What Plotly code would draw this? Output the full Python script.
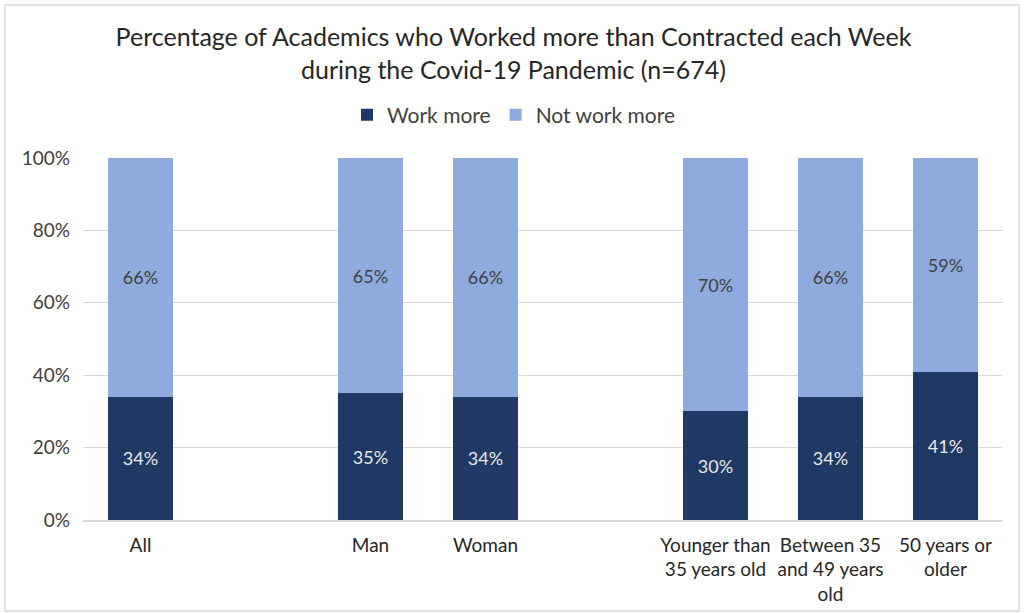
import plotly.graph_objects as go

# Category slots (blank slots separate the groups)
categories = ["All", " ", "Man", "Woman", "  ",
              "Younger than<br>35 years old", "Between 35<br>and 49 years<br>old", "50 years or<br>older"]
work_more = [34, None, 35, 34, None, 30, 34, 41]
not_work_more = [66, None, 65, 66, None, 70, 66, 59]
y_ticks = [0, 20, 40, 60, 80, 100]

DARK = "#1F3864"
LIGHT = "#8FAADC"
FONT = "Lato, Open Sans, sans-serif"

W, H = 1027, 613
ml, mr, mt, mb = 83, 24, 158, 93

def labels(vals):
    return [f"{v}%" if v is not None else "" for v in vals]

fig = go.Figure()
fig.add_trace(go.Bar(
    x=categories, y=work_more, name="Work more",
    marker=dict(color=DARK, line=dict(width=0)),
    text=labels(work_more), textposition="inside", insidetextanchor="middle",
    textfont=dict(color="#E8E8E8", size=18, family=FONT),
    hoverinfo="skip",
))
fig.add_trace(go.Bar(
    x=categories, y=not_work_more, name="Not work more",
    marker=dict(color=LIGHT, line=dict(width=0)),
    text=labels(not_work_more), textposition="inside", insidetextanchor="middle",
    textfont=dict(color="#404040", size=18, family=FONT),
    hoverinfo="skip",
))

# Outer chart border
fig.add_shape(type="rect", xref="paper", yref="paper",
              x0=(5 - ml) / (W - ml - mr), x1=(1019 - ml) / (W - ml - mr),
              y0=(H - mb - 611) / (H - mt - mb), y1=(H - mb - 5) / (H - mt - mb),
              line=dict(color="#D9D9D9", width=1.5), layer="below")

fig.update_layout(
    width=W, height=H,
    barmode="stack", bargap=0.44,
    margin=dict(l=ml, r=mr, t=mt, b=mb, autoexpand=False),
    paper_bgcolor="white", plot_bgcolor="white",
    font=dict(family=FONT, color="#404040", size=18),
    title=dict(
        text="Percentage of Academics who Worked more than Contracted each Week<br>during the Covid-19 Pandemic (n=674)",
        x=0.5, xref="container", xanchor="center",
        y=1 - 46 / H, yref="container", yanchor="top",
        font=dict(size=25, color="#262626", family=FONT),
    ),
    legend=dict(orientation="h", x=0.5, xref="container", xanchor="center",
                y=1 - 115 / H, yref="container", yanchor="middle",
                font=dict(size=21, color="#404040"), traceorder="normal",
                itemwidth=30),
    xaxis=dict(type="category", showgrid=False, showline=True, automargin=False,
               linecolor="#D9D9D9", linewidth=1.5, ticks="",
               ticklabelstandoff=7,
               tickfont=dict(size=19, color="#262626")),
    yaxis=dict(range=[0, 100], tickvals=y_ticks, automargin=False,
               ticktext=[f"{v}%" for v in y_ticks],
               showgrid=True, gridcolor="#D9D9D9", gridwidth=1.2,
               zeroline=False, ticks="", ticklabelstandoff=12,
               tickfont=dict(size=19, color="#404040")),
    showlegend=True,
)

fig.write_html("out.html")
